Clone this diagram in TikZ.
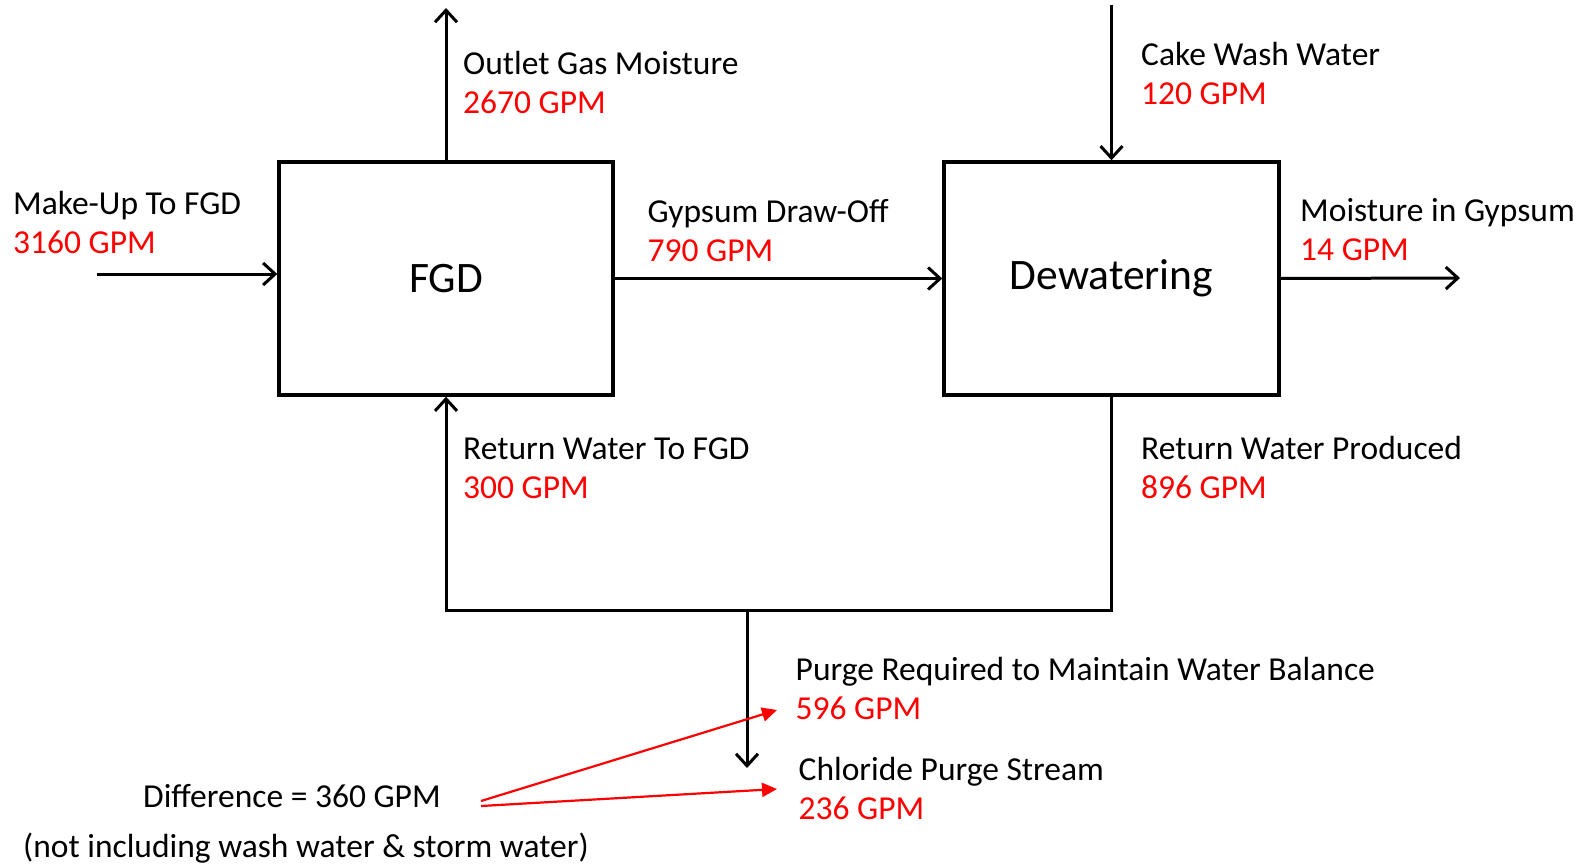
\documentclass[tikz,border=0pt]{standalone}
\usepackage{fontspec}
\setmainfont{Carlito}
\usetikzlibrary{arrows.meta}
\begin{document}
\begin{tikzpicture}[x=1pt,y=-1pt,
  box/.style={draw, line width=3.4pt, minimum width=334pt, minimum height=233pt, inner sep=0pt, font=\fontsize{43.5}{50}\selectfont},
  arr/.style={line width=3pt, -{Straight Barb[length=12pt,width=22pt,line width=3pt]}},
  redarr/.style={draw=red, line width=2.2pt, -{Triangle[length=15pt,width=14pt]}},
  lbl/.style={anchor=base west, inner sep=0pt, font=\fontsize{33.5}{39}\selectfont},
  val/.style={lbl, text=red}]
\useasboundingbox (0,0) rectangle (1579,864);
% boxes
\node[box] (fgd) at (446,278.5) {\raisebox{-3pt}{FGD}};
\node[box, minimum width=335pt] (dew) at (1111.5,278.5) {\raisebox{-3pt}{Dewatering}};
% coordinates
\coordinate (outletEnd) at (446,8);
\coordinate (cakeStart) at (1111.5,5);
\coordinate (makeupStart) at (97,274);
\coordinate (moistEnd) at (1460,278);
\coordinate (junction) at (747,610);
\coordinate (purgeEnd) at (747,768);
\coordinate (d1) at (481,801);
\coordinate (d2) at (481,806);
\coordinate (r1) at (777,710);
\coordinate (r2) at (777,789);
% connectors
\draw[arr] (fgd.north) -- (outletEnd);
\draw[arr] (cakeStart) -- (dew.north);
\draw[arr] (makeupStart) -- (makeupStart -| fgd.west);
\draw[arr] (fgd.east) -- (dew.west);
\draw[arr] (dew.east) -- (moistEnd);
\draw[arr] (dew.south) -- (dew.south |- junction) -- (fgd.south |- junction) -- (fgd.south);
\draw[arr] (junction) -- (purgeEnd);
\draw[redarr] (d1) -- (r1);
\draw[redarr] (d2) -- (r2);
% labels
\node[lbl] (outL) at (463,74.5) {Outlet Gas Moisture};
\node[val] (outV) at (463,113.5) {2670 GPM};
\node[lbl] (mkL) at (13,214.5) {Make-Up To FGD};
\node[val] (mkV) at (13,253.5) {3160 GPM};
\node[lbl] (gyL) at (647.5,222.5) {Gypsum Draw-Off};
\node[val] (gyV) at (647.5,261.5) {790 GPM};
\node[lbl] (ckL) at (1141,65.5) {Cake Wash Water};
\node[val] (ckV) at (1141,104.5) {120 GPM};
\node[lbl] (miL) at (1300,221.5) {Moisture in Gypsum};
\node[val] (miV) at (1300,260.5) {14 GPM};
\node[lbl] (rfL) at (463,459) {Return Water To FGD};
\node[val] (rfV) at (463,498) {300 GPM};
\node[lbl] (rpL) at (1141,459) {Return Water Produced};
\node[val] (rpV) at (1141,498) {896 GPM};
\node[lbl] (pgL) at (795.5,680.5) {Purge Required to Maintain Water Balance};
\node[val] (pgV) at (795.5,719.5) {596 GPM};
\node[lbl] (clL) at (798.5,780.5) {Chloride Purge Stream};
\node[val] (clV) at (798.5,819.5) {236 GPM};
\node[lbl] (diff) at (143,807.5) {Difference = 360 GPM};
\node[lbl] (note) at (23,857) {(not including wash water \& storm water)};
\end{tikzpicture}
\end{document}
